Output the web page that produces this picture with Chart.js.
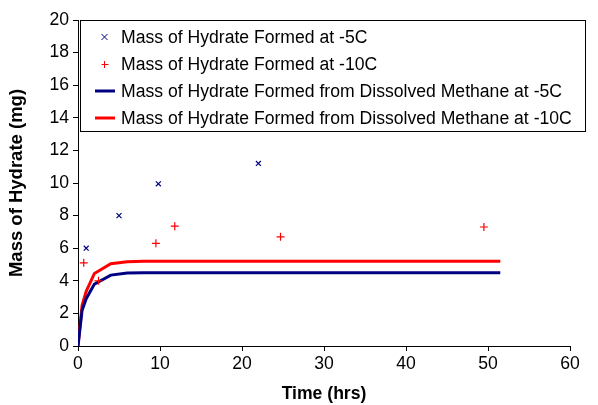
<!DOCTYPE html>
<html>
<head>
<meta charset="utf-8">
<script src="https://cdn.jsdelivr.net/npm/chart.js@4.4.0/dist/chart.umd.min.js"></script>
<style>
  html, body { margin: 0; padding: 0; background: #fff; }
  #wrap { width: 598px; height: 405px; position: relative; }
</style>
</head>
<body>
<div id="wrap"><canvas id="c" width="598" height="405"></canvas></div>
<script>
// ---- data ----
const timeMinus5 = [1.0, 5.0, 9.8, 22.0];
const massMinus5 = [6.0, 8.0, 9.95, 11.2];

const timeMinus10 = [0.7, 2.5, 9.5, 11.8, 24.7, 49.5];
const massMinus10 = [5.1, 4.0, 6.3, 7.35, 6.7, 7.3];

const timeModel = [0, 0.5, 1, 2, 4, 6, 8, 10, 20, 30, 40, 51.5];
const dissolvedMinus5 = [0, 2.2, 2.9, 3.8, 4.35, 4.48, 4.5, 4.5, 4.5, 4.5, 4.5, 4.5];
const dissolvedMinus10 = [0, 2.5, 3.35, 4.45, 5.05, 5.17, 5.2, 5.2, 5.2, 5.2, 5.2, 5.2];

const seriesLabels = [
  'Mass of Hydrate Formed at -5C',
  'Mass of Hydrate Formed at -10C',
  'Mass of Hydrate Formed from Dissolved Methane at -5C',
  'Mass of Hydrate Formed from Dissolved Methane at -10C'
];
const xTitle = 'Time (hrs)';
const yTitle = 'Mass of Hydrate (mg)';

const pts = (xs, ys) => xs.map((x, i) => ({ x: x, y: ys[i] }));

const NAVY = '#000080';
const RED = '#FF0000';
const FONT = 'Liberation Sans, Arial, sans-serif';
const FS = 17.6;

const legendPlugin = {
  id: 'boxLegend',
  afterDraw(chart) {
    const ctx = chart.ctx;
    const x0 = 80, y0 = 20, x1 = 586, y1 = 132;
    ctx.save();
    ctx.fillStyle = '#fff';
    ctx.fillRect(x0, y0, x1 - x0, y1 - y0);
    ctx.strokeStyle = '#000';
    ctx.lineWidth = 1;
    ctx.strokeRect(x0 + 0.5, y0 + 0.5, x1 - x0 - 1, y1 - y0 - 1);
    const rows = [37, 64, 91, 118];
    ctx.font = FS + 'px ' + FONT;
    ctx.textBaseline = 'middle';
    ctx.textAlign = 'left';
    chart.data.datasets.forEach((ds, i) => {
      const cy = rows[i];
      if (ds.showLine) {
        ctx.strokeStyle = ds.borderColor;
        ctx.lineWidth = 3;
        ctx.beginPath();
        ctx.moveTo(95, cy);
        ctx.lineTo(115, cy);
        ctx.stroke();
      } else {
        ctx.strokeStyle = ds.borderColor;
        ctx.lineWidth = 1;
        ctx.beginPath();
        const r = 3;
        if (ds.pointStyle === 'crossRot') {
          ctx.moveTo(104.5 - r, cy - r); ctx.lineTo(104.5 + r, cy + r);
          ctx.moveTo(104.5 - r, cy + r); ctx.lineTo(104.5 + r, cy - r);
        } else {
          ctx.moveTo(104.5 - r, cy + 0.5); ctx.lineTo(104.5 + r + 1, cy + 0.5);
          ctx.moveTo(104.5, cy - r); ctx.lineTo(104.5, cy + r + 1);
        }
        ctx.stroke();
      }
      ctx.fillStyle = '#000';
      ctx.fillText(ds.label, 121, cy + 1);
    });
    ctx.restore();
  }
};

new Chart(document.getElementById('c'), {
  type: 'scatter',
  data: {
    datasets: [
      {
        label: seriesLabels[0],
        data: pts(timeMinus5, massMinus5),
        pointStyle: 'crossRot',
        pointRadius: 3.5,
        borderColor: NAVY,
        backgroundColor: NAVY,
        borderWidth: 1.2,
        showLine: false
      },
      {
        label: seriesLabels[1],
        data: pts(timeMinus10, massMinus10),
        pointStyle: 'cross',
        pointRadius: 4,
        borderColor: RED,
        backgroundColor: RED,
        borderWidth: 1.2,
        showLine: false
      },
      {
        label: seriesLabels[2],
        data: pts(timeModel, dissolvedMinus5),
        showLine: true,
        pointRadius: 0,
        borderColor: NAVY,
        backgroundColor: NAVY,
        borderWidth: 3,
        tension: 0
      },
      {
        label: seriesLabels[3],
        data: pts(timeModel, dissolvedMinus10),
        showLine: true,
        pointRadius: 0,
        borderColor: RED,
        backgroundColor: RED,
        borderWidth: 3,
        tension: 0
      }
    ]
  },
  options: {
    responsive: false,
    animation: false,
    layout: { padding: { left: 0, right: 28, top: 20, bottom: 0 } },
    plugins: {
      legend: { display: false },
      tooltip: { enabled: false }
    },
    scales: {
      x: {
        type: 'linear',
        min: 0, max: 60,
        ticks: { stepSize: 10, color: '#000', font: { family: FONT, size: FS }, padding: 3 },
        grid: { display: true, drawOnChartArea: false, tickLength: 5, color: '#000' },
        border: { display: true, color: '#000', width: 1 },
        title: { display: true, text: xTitle, color: '#000', font: { family: FONT, size: FS, weight: 'bold' }, padding: { top: 0, bottom: 0 } },
        afterFit(s) { s.height = 59; }
      },
      y: {
        type: 'linear',
        min: 0, max: 20,
        ticks: { stepSize: 2, color: '#000', font: { family: FONT, size: FS }, padding: 4 },
        grid: { display: true, drawOnChartArea: false, tickLength: 5, color: '#000' },
        border: { display: true, color: '#000', width: 1 },
        title: { display: true, text: yTitle, color: '#000', font: { family: FONT, size: 18.5, weight: 'bold' }, padding: { top: 6, bottom: 0 } },
        afterFit(s) { s.width = 78; }
      }
    }
  },
  plugins: [legendPlugin]
});
</script>
</body>
</html>
